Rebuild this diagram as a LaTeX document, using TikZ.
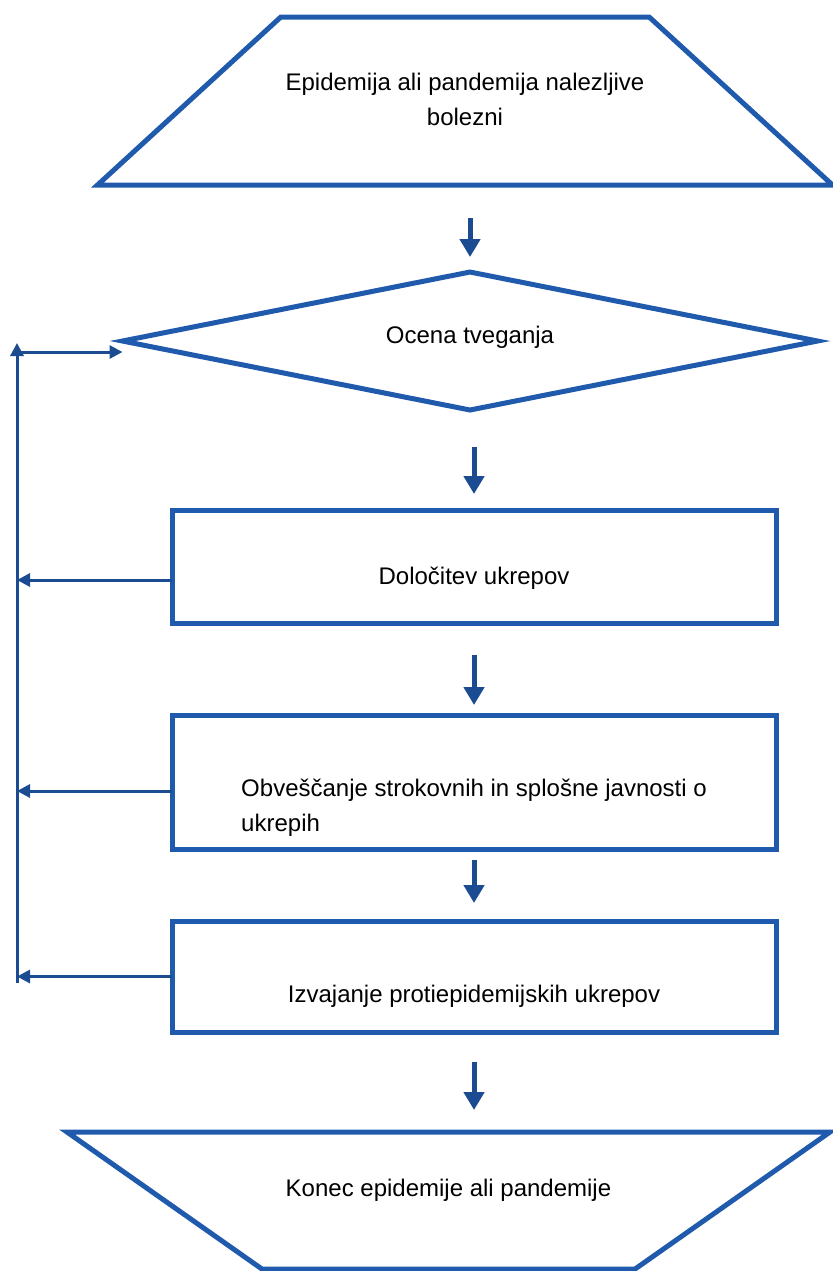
\documentclass[tikz,border=0pt]{standalone}
\usepackage{fontspec}
\setmainfont{Liberation Sans}
\usepackage{xcolor}
\definecolor{FLOWBLUE}{RGB}{32,90,172}
\colorlet{ARROWBLUE}{FLOWBLUE!85!black}
\usetikzlibrary{shapes.geometric,arrows.meta,positioning,calc}
\tikzset{
  basic-style/.style = {
    draw=FLOWBLUE, line width=2.5pt, fill=white,
    outer sep=0pt,
    font=\fontsize{12}{17.5}\selectfont
  },
  term-style/.style = {
    basic-style, trapezium, trapezium stretches body,
    trapezium angle=#1, inner xsep=0pt, align=center
  },
  decide-style/.style = {
    basic-style, diamond, aspect=5,
    minimum width=347.5pt, minimum height=69pt
  },
  step-style/.style = {
    basic-style, rectangle,
    minimum width=302pt, minimum height=#1
  },
  flow-style/.style = {
    draw=ARROWBLUE, line width=2.5pt,
    -{Triangle[width=10pt,length=9pt]}
  },
  back-style/.style = {
    draw=ARROWBLUE, line width=1.5pt,
    -{Triangle[width=6.5pt,length=6.5pt]}
  }
}

\begin{document}
\begin{tikzpicture}[x=0.5pt,y=-0.5pt]
  \useasboundingbox (0,0) rectangle (833,1271);

  %%% flow chart
  \node[term-style=42.5, minimum width=367.5pt, text height=26pt, text depth=2pt, inner ysep=28pt] (start) at (465,101)
    {Epidemija ali pandemija nalezljive\\bolezni};
  \node[decide-style, text depth=6.5pt, below=43.5pt of start, xshift=2.5pt] (risk) {Ocena tveganja};
  \node[step-style=56.5pt, text height=20pt, below=50pt of risk, xshift=2pt] (measures) {Določitev ukrepov};
  \node[step-style=67pt, text height=52pt, align=left, below=46pt of measures] (inform)
    {Obveščanje strokovnih in splošne javnosti o\\ukrepih};
  \node[step-style=55.5pt, text height=28pt, below=36pt of inform] (apply) {Izvajanje protiepidemijskih ukrepov};
  \node[term-style=35.1, shape border rotate=180, minimum width=381.5pt, text height=9pt, text depth=13pt,
    inner ysep=23.25pt, below=50pt of apply, xshift=-12.75pt] (finish) {Konec epidemije ali pandemije};

  %%% arrows
  \draw[flow-style, shorten <=16.5pt, shorten >=7.5pt] (risk.north |- start.south) -- (risk.north);
  \draw[flow-style, shorten <=18.5pt, shorten >=8pt] (measures.north |- risk.south) -- (measures.north);
  \draw[flow-style, shorten <=16pt, shorten >=5pt] (inform.north |- measures.south) -- (inform.north);
  \draw[flow-style, shorten <=5.5pt, shorten >=9pt] (apply.north |- inform.south) -- (apply.north);
  \draw[flow-style, shorten <=15pt, shorten >=11pt] (apply.south) -- (apply.south |- finish.north);

  %%% feedback loop
  \coordinate (loopTop) at (17,352);
  \coordinate (loopBot) at (17,983);
  \draw[back-style] (loopBot) -- ([yshift=4.5pt]loopTop);
  \draw[back-style] (loopTop) -- (loopTop -| risk.west);
  \draw[back-style] ([yshift=-6.75pt]measures.west) -- ([yshift=-6.75pt]measures.west -| loopTop);
  \draw[back-style] ([yshift=-4.5pt]inform.west) -- ([yshift=-4.5pt]inform.west -| loopTop);
  \draw[back-style] (apply.west) -- (apply.west -| loopTop);
\end{tikzpicture}
\end{document}
